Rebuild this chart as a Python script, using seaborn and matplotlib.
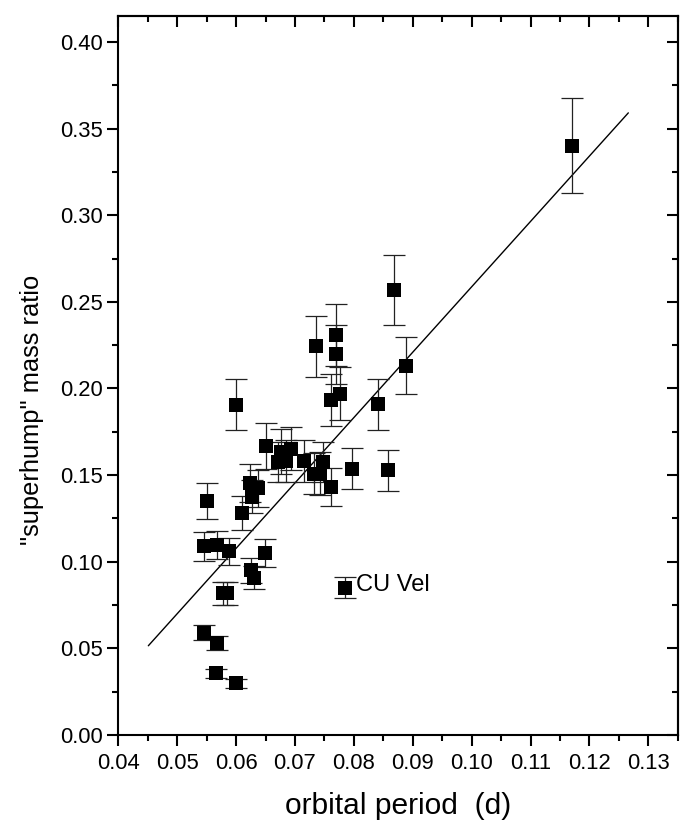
import numpy as np
import pandas as pd
import matplotlib
matplotlib.use("Agg")
import matplotlib.pyplot as plt
import seaborn as sns
from matplotlib.ticker import MultipleLocator, FormatStrFormatter

# ---- data ----
period = [0.0550, 0.0610, 0.0546, 0.0568, 0.0588, 0.0625, 0.0631, 0.0649,
          0.0577, 0.0584, 0.0546, 0.0567, 0.0566, 0.0599, 0.0600, 0.0651,
          0.0677, 0.0694, 0.0672, 0.0685, 0.0716, 0.0747, 0.0732, 0.0743,
          0.0624, 0.0638, 0.0627, 0.0762, 0.0796, 0.0858, 0.0735, 0.0769,
          0.0769, 0.0761, 0.0776, 0.0888, 0.0841, 0.0868, 0.1171, 0.0785]
mass_ratio = [0.1351, 0.1282, 0.1090, 0.1096, 0.1061, 0.0952, 0.0907, 0.1051,
              0.0817, 0.0817, 0.0590, 0.0532, 0.0356, 0.0298, 0.1907, 0.1668,
              0.1634, 0.1653, 0.1576, 0.1580, 0.1583, 0.1574, 0.1509, 0.1509,
              0.1452, 0.1423, 0.1374, 0.1432, 0.1538, 0.1528, 0.2245, 0.2307,
              0.2197, 0.1936, 0.1971, 0.2132, 0.1909, 0.2570, 0.3400, 0.0850]
ratio_error = [0.0102, 0.0098, 0.0084, 0.0083, 0.0078, 0.0072, 0.0067, 0.0079,
               0.0064, 0.0064, 0.0043, 0.0039, 0.0026, 0.0026, 0.0147, 0.0130,
               0.0130, 0.0125, 0.0114, 0.0120, 0.0120, 0.0115, 0.0120, 0.0125,
               0.0110, 0.0105, 0.0095, 0.0110, 0.0118, 0.0117, 0.0176, 0.0179,
               0.0170, 0.0150, 0.0152, 0.0166, 0.0146, 0.0203, 0.0274, 0.0062]

label_name = "CU Vel"
label_period = 0.0785
label_ratio = 0.0850

fit_slope = 3.774
fit_intercept = -0.1187
fit_range = [0.0451, 0.1266]

x_limits = (0.04, 0.135)
y_limits = (0.0, 0.415)
x_ticks = [0.04, 0.05, 0.06, 0.07, 0.08, 0.09, 0.10, 0.11, 0.12, 0.13]
y_ticks = [0.00, 0.05, 0.10, 0.15, 0.20, 0.25, 0.30, 0.35, 0.40]

x_title = "orbital period  (d)"
y_title = '"superhump" mass ratio'

# ---- style ----
sns.set_style("ticks")
plt.rcParams["font.family"] = ["Liberation Sans", "DejaVu Sans"]
plt.rcParams["text.color"] = "black"
plt.rcParams["axes.labelcolor"] = "black"
plt.rcParams["xtick.color"] = "black"
plt.rcParams["ytick.color"] = "black"

fig = plt.figure(figsize=(6.87, 8.25), dpi=100)
ax = fig.add_axes([0.1722, 0.1091, 0.8144, 0.8715])

df = pd.DataFrame({"period": period, "q": mass_ratio, "err": ratio_error})
fit_df = pd.DataFrame({"period": fit_range,
                       "q": [fit_slope * x + fit_intercept for x in fit_range]})

sns.lineplot(data=fit_df, x="period", y="q", color="black", linewidth=1.0,
             ax=ax, zorder=1)
ax.errorbar(df["period"], df["q"], yerr=df["err"], fmt="none",
            ecolor="#222222", elinewidth=0.9, capsize=7.9, capthick=0.9,
            zorder=2)
sns.scatterplot(data=df, x="period", y="q", marker="s", s=88, color="black",
                edgecolor="black", linewidth=0, ax=ax, zorder=3)

ax.annotate(label_name, xy=(label_period, label_ratio), xytext=(7.9, -2.4),
            textcoords="offset points", ha="left", va="baseline",
            fontsize=17, color="black")

ax.set_xlim(*x_limits)
ax.set_ylim(*y_limits)
ax.set_xticks(x_ticks)
ax.set_yticks(y_ticks)
ax.xaxis.set_minor_locator(MultipleLocator(0.005))
ax.yaxis.set_minor_locator(MultipleLocator(0.025))
ax.xaxis.set_major_formatter(FormatStrFormatter("%.2f"))
ax.yaxis.set_major_formatter(FormatStrFormatter("%.2f"))

for sp in ax.spines.values():
    sp.set_visible(True)
    sp.set_linewidth(1.5)
    sp.set_color("black")

ax.tick_params(which="both", direction="out", top=False, right=False,
               width=1.5, color="black", labelsize=15.8, labelcolor="black")
ax.tick_params(which="major", length=8)
ax.tick_params(which="minor", length=4.2)
ax.tick_params(axis="x", which="major", pad=5)
ax.tick_params(axis="y", which="major", pad=3)

# inward ticks on top and right
top = ax.secondary_xaxis("top")
top.set_xticks(x_ticks)
top.xaxis.set_minor_locator(MultipleLocator(0.005))
top.tick_params(which="both", direction="in", width=1.5, labeltop=False,
                color="black")
top.tick_params(which="major", length=8)
top.tick_params(which="minor", length=4.2)
top.spines["top"].set_linewidth(1.5)
right = ax.secondary_yaxis("right")
right.set_yticks(y_ticks)
right.yaxis.set_minor_locator(MultipleLocator(0.025))
right.tick_params(which="both", direction="in", width=1.5, labelright=False,
                  color="black")
right.tick_params(which="major", length=8)
right.tick_params(which="minor", length=4.2)
right.spines["right"].set_linewidth(1.5)

ax.set_xlabel(x_title, fontsize=21.6, labelpad=13, color="black")
ax.set_ylabel(y_title, fontsize=18.4, color="black")
ax.yaxis.label.set_verticalalignment("center")
ax.yaxis.set_label_coords(-0.154, 0.452)
ax.grid(False)

fig.savefig("out.png", dpi=100, facecolor="white")
